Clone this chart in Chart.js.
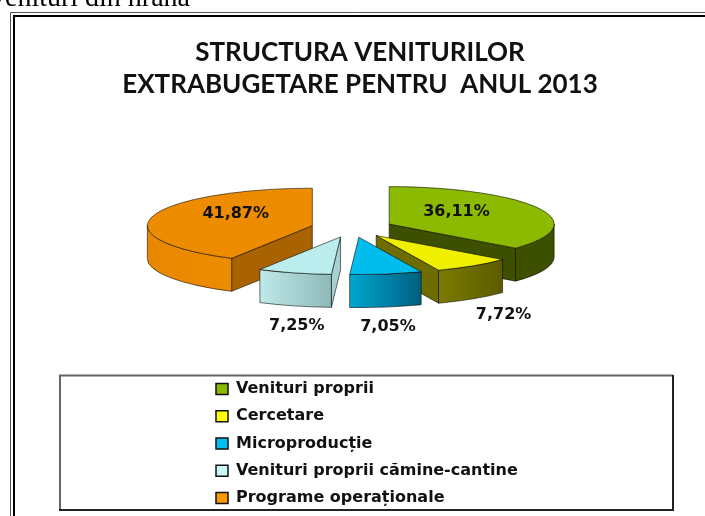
<!DOCTYPE html>
<html>
<head>
<meta charset="utf-8">
<style>html,body{margin:0;padding:0;background:#fff}canvas{display:block}</style>
<script src="https://cdn.jsdelivr.net/npm/chart.js@4"></script>
</head>
<body>
<canvas id="c" width="705" height="516"></canvas>
<script>
const categories = ['Venituri proprii','Cercetare','Microproducție','Venituri proprii cămine-cantine','Programe operaționale'];
const shares = [36.11, 7.72, 7.05, 7.25, 41.87];
const titleLines = ['STRUCTURA VENITURILOR','EXTRABUGETARE PENTRU  ANUL 2013'];
const pageFragment = 'Venituri din hrană';
const topColors = ['#8cba00','#eef000','#00bdee','#bcedee','#ee8c00'];
const legendColors = ['#8cba00','#ffff00','#00bfee','#c8f6f6','#ff9900'];
const rimFrom = ['#3d5000','#7c7a00','#00a6d0','#bfe9e9','#e88800'];
const rimTo   = ['#3d5000','#5c5c00','#005f80','#8fb8b8','#ee8c00'];
const radialWall = ['#3d5000','#6e6e00','#005f80','#a8d0d0','#a86200'];
const labelRadial = [0.45, 1.31, 1.07, 0.95, 0.48];
const labelDrop = [-5, 40, 50.5, 55, -7];

const R = 165, tilt = 0.227, depth = 33, explode = 41, cx = 352, cy = 228;
const fmt = v => v.toFixed(2).replace('.', ',') + '%';

function apex(a){const m=(a.startAngle+a.endAngle)/2;return [cx+Math.cos(m)*explode, cy+Math.sin(m)*explode*tilt, m];}
function rimPt(p,ang){return [p[0]+R*Math.cos(ang), p[1]+R*tilt*Math.sin(ang)];}

const pie3d = {
  id:'pie3d',
  beforeDraw(chart){
    const g=chart.ctx;
    g.save();
    g.fillStyle='#fff';g.fillRect(0,0,705,516);
    g.fillStyle='#000';g.font='28px "Liberation Serif"';g.textAlign='right';g.textBaseline='alphabetic';
    g.fillText(pageFragment,190,6);
    g.strokeStyle='#555';g.lineWidth=1;
    g.beginPath();g.moveTo(10.5,516);g.lineTo(10.5,12.5);g.lineTo(705,12.5);g.stroke();
    g.strokeStyle='#000';g.lineWidth=2;
    g.beginPath();g.moveTo(14,516);g.lineTo(14,16);g.lineTo(705,16);g.stroke();
    g.strokeStyle='#666';g.lineWidth=2;
    g.beginPath();g.moveTo(60,510);g.lineTo(60,375.5);g.lineTo(673,375.5);g.stroke();
    g.strokeStyle='#222';
    g.beginPath();g.moveTo(59,510);g.lineTo(673,510);g.lineTo(673,375);g.stroke();
    g.restore();
  },
  afterLayout(chart){
    const l=chart.legend, pad=chart.options.plugins.legend.labels.padding;
    l.left=216-pad; l.right=690; l.top=381-pad; l.bottom=560; l.width=l.right-l.left; l.height=l.bottom-l.top;
  },
  beforeDatasetDraw(chart,args){
    const g=chart.ctx, arcs=args.meta.data, order=[0,4,1,3,2];
    g.save();
    g.lineWidth=0.8;g.strokeStyle='rgba(0,0,0,.7)';g.lineJoin='round';
    for(const i of order){
      const a=arcs[i], p=apex(a), s=a.startAngle, e=a.endAngle;
      const wall=(ang)=>{
        const q=rimPt(p,ang);
        g.beginPath();g.moveTo(p[0],p[1]);g.lineTo(q[0],q[1]);g.lineTo(q[0],q[1]+depth);g.lineTo(p[0],p[1]+depth);g.closePath();
        g.fillStyle=radialWall[i];g.fill();g.stroke();
      };
      if(Math.cos(e)>0) wall(e);
      if(Math.cos(s)<0) wall(s);
      const a1=Math.max(s,0), a2=Math.min(e,Math.PI);
      if(a2>a1){
        const x1=rimPt(p,a2)[0], x2=Math.min(p[0]+R,rimPt(p,a1)[0]);
        const gr=g.createLinearGradient(x1,0,x2,0);
        gr.addColorStop(0,rimFrom[i]);gr.addColorStop(1,rimTo[i]);
        g.beginPath();g.ellipse(p[0],p[1],R,R*tilt,0,a1,a2,false);
        g.ellipse(p[0],p[1]+depth,R,R*tilt,0,a2,a1,true);g.closePath();
        g.fillStyle=gr;g.fill();g.stroke();
      }
    }
    for(const i of order){
      const a=arcs[i], p=apex(a);
      g.save();
      g.translate(p[0],p[1]);g.scale(1,tilt);g.translate(-a.x,-a.y);
      a.draw(g);
      g.restore();
      g.beginPath();g.moveTo(p[0],p[1]);
      g.ellipse(p[0],p[1],R,R*tilt,0,a.startAngle,a.endAngle,false);g.closePath();g.stroke();
    }
    g.fillStyle='#111';g.font='bold 16px "DejaVu Sans"';g.textAlign='center';g.textBaseline='middle';
    arcs.forEach((a,i)=>{
      const p=apex(a), m=p[2], f=labelRadial[i];
      g.fillText(fmt(shares[i]), p[0]+f*R*Math.cos(m), p[1]+f*R*tilt*Math.sin(m)+labelDrop[i]);
    });
    g.restore();
    return false;
  }
};

new Chart(document.getElementById('c'),{
  type:'pie',
  data:{labels:categories,datasets:[{data:shares,backgroundColor:topColors,borderWidth:0,radius:R}]},
  options:{
    responsive:false,animation:false,
    layout:{padding:{left:15,right:0,top:0,bottom:0}},
    plugins:{
      tooltip:{enabled:false},
      title:{display:true,text:titleLines,color:'#111',font:{family:'Lato',weight:'bold',size:26,lineHeight:1.23},padding:{top:37,bottom:10}},
      legend:{position:'chartArea',align:'start',
        labels:{color:'#111',font:{family:'"DejaVu Sans"',weight:'bold',size:16},boxWidth:12,boxHeight:11,padding:11.25,
          generateLabels(c){
            return categories.map((t,i)=>({text:t,fillStyle:legendColors[i],strokeStyle:'#111',lineWidth:1.5,hidden:false,index:i,fontColor:'#111'}));
          }}}
    }
  },
  plugins:[pie3d]
});
</script>
</body>
</html>
